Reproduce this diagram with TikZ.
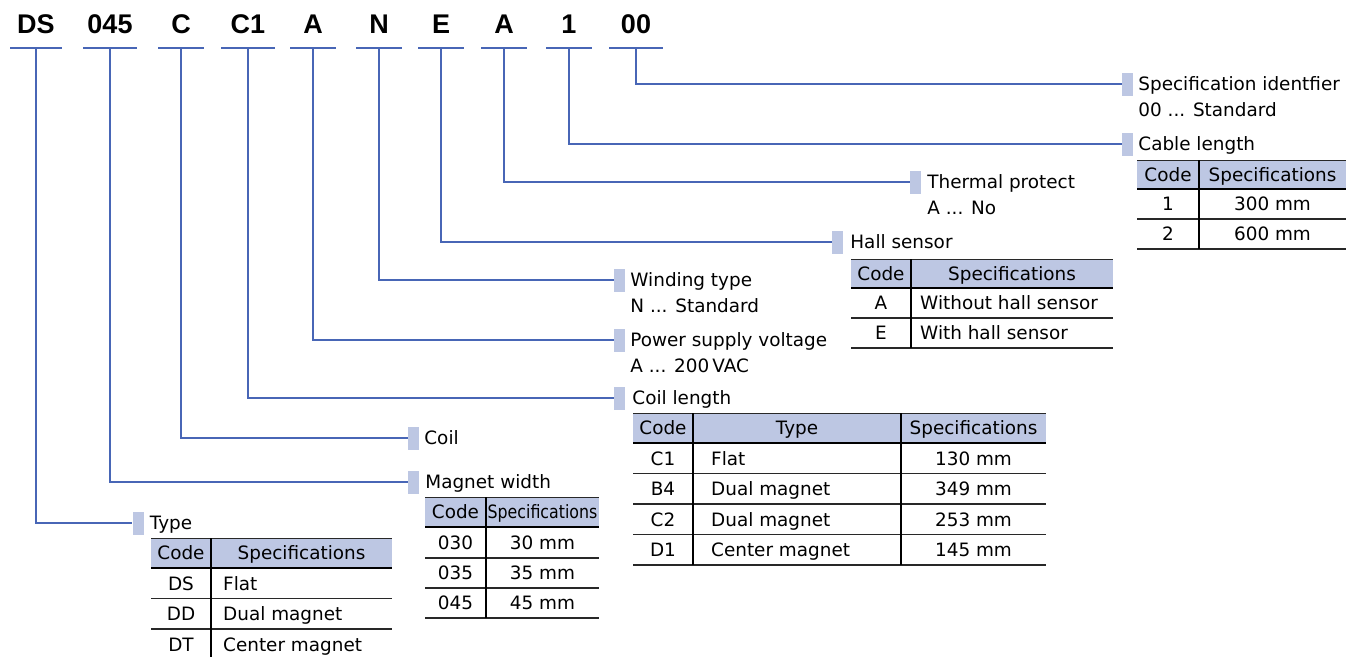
\documentclass[tikz,border=0pt]{standalone}
\usepackage{fontspec}
\setmainfont{DejaVu Sans}
\newfontfamily\codefont{Liberation Sans}
\usepackage{graphicx}
\usetikzlibrary{positioning}
\definecolor{linkblue}{RGB}{72,102,182}
\definecolor{paleblue}{RGB}{189,199,227}
\definecolor{rulegray}{RGB}{40,40,40}

\begin{document}
\begin{tikzpicture}[x=1pt,y=-1pt,
  codetxt/.style={inner sep=0pt,anchor=base,font=\codefont\bfseries\fontsize{27}{30}\selectfont},
  uline/.style={linkblue,line width=2pt},
  link/.style={linkblue,line width=1.2pt},
  marker/.style={fill=paleblue,minimum width=11pt,minimum height=23pt,inner sep=0pt},
  lbl/.style={inner sep=0pt,text height=14pt,text depth=1pt,font=\fontsize{18.4}{22}\selectfont},
  cell/.style={lbl},
  toprule/.style={rulegray,line width=1pt},
  midrule/.style={black,line width=1.4pt},
  rowrule/.style={rulegray,line width=1.1pt},
  colrule/.style={black,line width=1.3pt}]
  \useasboundingbox (0,0) rectangle (1359,657);

  % model code
  \foreach \t/\x/\w/\n in {DS/36/26/ds,045/110/27/mw,C/181/23/co,C1/248/27/cl,A/313/23/pv,
                           N/379/23/wt,E/441/23/hs,A/504/23/tp,1/569/23/cb,00/636/27/si}{
    \node[codetxt] (k\n) at (\x,33) {\t};
    \coordinate (b\n) at (\x,48);
    \draw[uline] ([xshift=-\w]b\n) -- ([xshift=\w]b\n);
  }

  % markers
  \node[marker] (msi) at (1127.5,84) {};
  \node[marker] (mcb) at (1127.5,144) {};
  \node[marker] (mtp) at (915.5,182) {};
  \node[marker] (mhs) at (837.5,242) {};
  \node[marker] (mwt) at (619.5,280) {};
  \node[marker] (mpv) at (619.5,340) {};
  \node[marker] (mcl) at (619.5,398) {};
  \node[marker] (mco) at (413.5,438) {};
  \node[marker] (mmw) at (413.5,482) {};
  \node[marker] (mds) at (138,523) {};
  \foreach \n in {si,cb,tp,hs,wt,pv,cl,co,mw,ds}
    \draw[link] (b\n) |- (m\n.west);

  % labels
  \node[lbl,right=5pt of msi] (lsi) {Specification identfier};
  \node[lbl,below=11pt of lsi.south west,anchor=north west] (lsi2) {00 ... Standard};
  \node[lbl,right=5pt of mcb] (lcb) {Cable length};
  \node[lbl,right=6pt of mtp] (ltp) {Thermal protect};
  \node[lbl,below=11pt of ltp.south west,anchor=north west] (ltp2) {A ... No};
  \node[lbl,right=7pt of mhs] (lhs) {Hall sensor};
  \node[lbl,right=5pt of mwt] (lwt) {Winding type};
  \node[lbl,below=11pt of lwt.south west,anchor=north west] (lwt2) {N ... Standard};
  \node[lbl,right=5pt of mpv] (lpv) {Power supply voltage};
  \node[lbl,below=11pt of lpv.south west,anchor=north west] (lpv2) {A ... 200\,VAC};
  \node[lbl,right=7pt of mcl] (lcl) {Coil length};
  \node[lbl,right=5pt of mco] (lco) {Coil};
  \node[lbl,right=6pt of mmw] (lmw) {Magnet width};
  \node[lbl,right=6pt of mds] (lds) {Type};

  % cable length table
  \begin{scope}[shift={(1137,160)}]
    \fill[paleblue] (0,0) rectangle (209,29);
    \draw[toprule] (0,0) -- (209,0);
    \draw[midrule] (0,29) -- (209,29);
    \foreach \y in {59,89} \draw[rowrule] (0,\y) -- (209,\y);
    \draw[colrule] (62,0) -- (62,89);
    \node[cell] (cbh1) at (31,14.5) {Code};
    \node[cell] (cbh2) at (135.5,14.5) {Specifications};
    \foreach \c/\s [count=\i] in {1/300 mm,2/600 mm}{
      \node[cell] (cbc\i) at (31,14+30*\i) {\c};
      \node[cell] (cbs\i) at (135.5,14+30*\i) {\s};
    }
  \end{scope}

  % hall sensor table
  \begin{scope}[shift={(851,259)}]
    \fill[paleblue] (0,0) rectangle (262,29);
    \draw[toprule] (0,0) -- (262,0);
    \draw[midrule] (0,29) -- (262,29);
    \foreach \y in {59,89} \draw[rowrule] (0,\y) -- (262,\y);
    \draw[colrule] (60,0) -- (60,89);
    \node[cell] (hsh1) at (30,14.5) {Code};
    \node[cell] (hsh2) at (161,14.5) {Specifications};
    \foreach \c/\s [count=\i] in {A/Without hall sensor,E/With hall sensor}{
      \node[cell] (hsc\i) at (30,14+30*\i) {\c};
      \node[cell,anchor=west] (hss\i) at (69,14+30*\i) {\s};
    }
  \end{scope}

  % coil length table
  \begin{scope}[shift={(633,413)}]
    \fill[paleblue] (0,0) rectangle (413,30);
    \draw[toprule] (0,0) -- (413,0);
    \draw[midrule] (0,30) -- (413,30);
    \foreach \y in {60.5,91,121.5,152} \draw[rowrule] (0,\y) -- (413,\y);
    \draw[colrule] (60,0) -- (60,152);
    \draw[colrule] (268,0) -- (268,152);
    \node[cell] (clh1) at (30,15) {Code};
    \node[cell] (clh2) at (164,15) {Type};
    \node[cell] (clh3) at (340.5,15) {Specifications};
    \foreach \c/\t/\s [count=\i] in {C1/Flat/130 mm,B4/Dual magnet/349 mm,
                                     C2/Dual magnet/253 mm,D1/Center magnet/145 mm}{
      \node[cell] (clc\i) at (30,15+30.5*\i) {\c};
      \node[cell,anchor=west] (clt\i) at (78,15+30.5*\i) {\t};
      \node[cell] (cls\i) at (340.5,15+30.5*\i) {\s};
    }
  \end{scope}

  % magnet width table
  \begin{scope}[shift={(425,497)}]
    \fill[paleblue] (0,0) rectangle (174,30);
    \draw[toprule] (0,0) -- (174,0);
    \draw[midrule] (0,30) -- (174,30);
    \foreach \y in {61,91,121} \draw[rowrule] (0,\y) -- (174,\y);
    \draw[colrule] (61,0) -- (61,121);
    \node[cell] (mwh1) at (30.5,15) {Code};
    \node[cell] (mwh2) at (117.5,15) {\scalebox{0.86}[1]{Specifications}};
    \foreach \c/\s [count=\i] in {030/30 mm,035/35 mm,045/45 mm}{
      \node[cell] (mwc\i) at (30.5,15.5+30*\i) {\c};
      \node[cell] (mws\i) at (117.5,15.5+30*\i) {\s};
    }
  \end{scope}

  % type table
  \begin{scope}[shift={(151,538)}]
    \fill[paleblue] (0,0) rectangle (241,30);
    \draw[toprule] (0,0) -- (241,0);
    \draw[midrule] (0,30) -- (241,30);
    \foreach \y in {60.5,91} \draw[rowrule] (0,\y) -- (241,\y);
    \draw[colrule] (60,0) -- (60,119);
    \node[cell] (dsh1) at (30,15) {Code};
    \node[cell] (dsh2) at (150.5,15) {Specifications};
    \foreach \c/\s [count=\i] in {DS/Flat,DD/Dual magnet,DT/Center magnet}{
      \node[cell] (dsc\i) at (30,15+30.5*\i) {\c};
      \node[cell,anchor=west] (dss\i) at (72,15+30.5*\i) {\s};
    }
  \end{scope}
\end{tikzpicture}
\end{document}
